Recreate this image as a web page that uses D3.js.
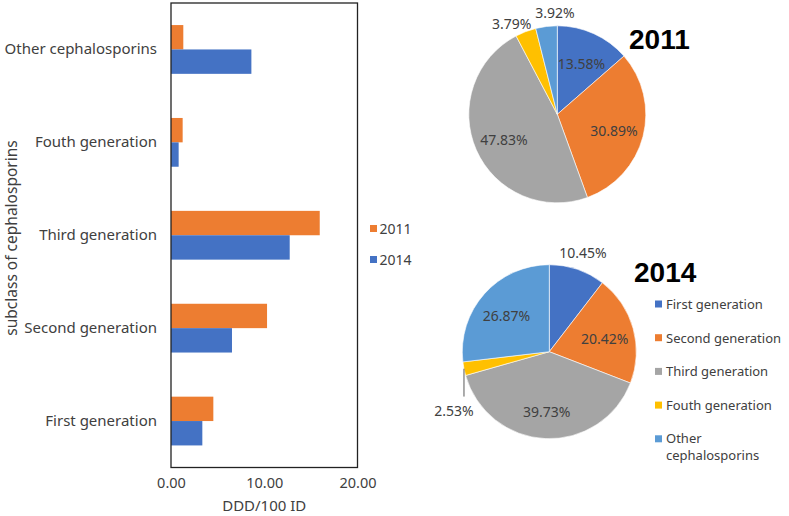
<!DOCTYPE html>
<html>
<head>
<meta charset="utf-8">
<script src="https://cdn.jsdelivr.net/npm/d3@7"></script>
<style>
  html, body { margin: 0; padding: 0; background: #fff; }
  svg { display: block; font-family: "Noto Sans", "Open Sans", sans-serif; }
</style>
</head>
<body>
<svg id="chart" width="789" height="516"></svg>
<script>
// ---------- data ----------
const categories = ["First generation", "Second generation", "Third generation", "Fouth generation", "Other cephalosporins"];
const legendCategories = ["First generation", "Second generation", "Third generation", "Fouth generation", "Other cephalosporins"];
const years = ["2011", "2014"];
const values2011 = [4.54, 10.30, 15.95, 1.25, 1.32];
const values2014 = [3.36, 6.54, 12.73, 0.82, 8.62];
const pct2011 = [13.58, 30.89, 47.83, 3.79, 3.92];
const pct2014 = [10.45, 20.42, 39.73, 2.53, 26.87];
const xTicks = [0, 10, 20];
const xTitle = "DDD/100 ID";
const yTitle = "subclass of cephalosporins";

// ---------- styles ----------
const yearColors = { "2011": "#ED7D31", "2014": "#4472C4" };
const sliceColors = ["#4472C4", "#ED7D31", "#A5A5A5", "#FFC000", "#5B9BD5"];
const textColor = "#404040";

const svg = d3.select("#chart");
svg.append("rect").attr("width", 789).attr("height", 516).attr("fill", "#fff");

// ---------- bar chart ----------
const plot = { left: 171, right: 357.5, top: 3, bottom: 467.5 };
const x = d3.scaleLinear().domain([0, 20]).range([plot.left, plot.right]);
const y = d3.scaleBand()
  .domain(categories.slice().reverse())
  .range([plot.top, plot.bottom])
  .paddingInner(0.475).paddingOuter(0.2375);
const ySub = d3.scaleBand().domain(years).range([0, y.bandwidth()]);

const series = { "2011": values2011, "2014": values2014 };
const barData = [];
categories.forEach((c, i) => years.forEach(yr => barData.push({ c, yr, v: series[yr][i] })));

svg.append("g").selectAll("rect").data(barData).join("rect")
  .attr("x", x(0))
  .attr("y", d => y(d.c) + ySub(d.yr))
  .attr("width", d => x(d.v) - x(0))
  .attr("height", ySub.bandwidth())
  .attr("fill", d => yearColors[d.yr]);

// frame
svg.append("rect")
  .attr("x", plot.left).attr("y", plot.top)
  .attr("width", plot.right - plot.left).attr("height", plot.bottom - plot.top)
  .attr("fill", "none").attr("stroke", "#222").attr("stroke-width", 1.3);

// x axis
const xAxis = svg.append("g")
  .attr("transform", `translate(0,${plot.bottom})`)
  .call(d3.axisBottom(x).tickValues(xTicks).tickFormat(d3.format(".2f")).tickSize(0).tickPadding(10));
xAxis.select(".domain").remove();
xAxis.selectAll("text").attr("fill", textColor).style("font-size", "14.5px")
  .style("font-family", '"Noto Sans", sans-serif');

svg.append("text")
  .attr("x", x(10)).attr("y", 510.5)
  .attr("text-anchor", "middle")
  .attr("fill", textColor).style("font-size", "15px")
  .text(xTitle);

// y axis labels
const yAxis = svg.append("g")
  .attr("transform", `translate(${plot.left},0)`)
  .call(d3.axisLeft(y).tickSize(0).tickPadding(14));
yAxis.select(".domain").remove();
yAxis.selectAll("text").attr("fill", textColor).style("font-size", "15px")
  .style("font-family", '"Noto Sans", sans-serif');

svg.append("text")
  .attr("transform", `translate(11,238) rotate(-90)`)
  .attr("text-anchor", "middle").attr("dominant-baseline", "central")
  .attr("fill", textColor).style("font-size", "15.5px")
  .text(yTitle);

// bar legend (2011 on top)
const barLegend = svg.append("g").attr("transform", "translate(370,228.5)");
years.forEach((yr, i) => {
  const g = barLegend.append("g").attr("transform", `translate(0,${i * 31})`);
  g.append("rect").attr("x", 0).attr("y", -3.5).attr("width", 7).attr("height", 7).attr("fill", yearColors[yr]);
  g.append("text").attr("x", 9.5).attr("y", 0).attr("dominant-baseline", "central")
    .attr("fill", textColor).style("font-size", "14px").text(yr);
});

// ---------- pies ----------
function drawPie(cx, cy, r, pcts, title, titlePos) {
  const g = svg.append("g").attr("transform", `translate(${cx},${cy})`);
  const pie = d3.pie().sort(null).value(d => d)(pcts);
  const arc = d3.arc().innerRadius(0).outerRadius(r);
  g.selectAll("path").data(pie).join("path")
    .attr("d", arc)
    .attr("fill", (d, i) => sliceColors[i])
    .attr("stroke", "#fff").attr("stroke-width", 0.6);

  const inArc = d3.arc().innerRadius(r * 0.66).outerRadius(r * 0.66);
  const mid = d => (d.startAngle + d.endAngle) / 2;

  // outside labels: small slices
  const outside = pie.filter(d => d.data < 11);
  const ang = outside.map(d => mid(d));
  const minSep = 0.44;
  for (let k = 1; k < ang.length; k++) {
    const gap = ang[k] - ang[k - 1];
    if (gap < minSep) {
      const c = (ang[k] + ang[k - 1]) / 2;
      ang[k - 1] = c - minSep / 2;
      ang[k] = c + minSep / 2;
    }
  }

  pie.forEach((d, i) => {
    const label = d.data.toFixed(2) + "%";
    const oi = outside.indexOf(d);
    if (oi < 0) {
      const [lx, ly] = inArc.centroid(d);
      g.append("text").attr("x", lx).attr("y", ly + 2)
        .attr("text-anchor", "middle").attr("dominant-baseline", "central")
        .attr("fill", textColor).style("font-size", "14px").text(label);
    } else if (d.data < 3) {
      const a = mid(d);
      const ex = Math.sin(a) * r, ey = -Math.cos(a) * r;
      g.append("line").attr("x1", ex).attr("y1", ey).attr("x2", ex).attr("y2", ey + 0.32 * r)
        .attr("stroke", "#595959").attr("stroke-width", 1);
      g.append("text").attr("x", ex - 10).attr("y", ey + 0.32 * r + 14)
        .attr("text-anchor", "middle").attr("dominant-baseline", "central")
        .attr("fill", textColor).style("font-size", "14px").text(label);
    } else {
      const a = ang[oi];
      const rr = r * (d.data > 5 ? 1.2 : 1.15);
      g.append("text").attr("x", Math.sin(a) * rr).attr("y", -Math.cos(a) * rr)
        .attr("text-anchor", "middle").attr("dominant-baseline", "central")
        .attr("fill", textColor).style("font-size", "14px").text(label);
    }
  });

  svg.append("text").attr("x", titlePos[0]).attr("y", titlePos[1])
    .attr("dominant-baseline", "central")
    .attr("fill", "#000").style("font-family", '"Liberation Sans", Arial, sans-serif')
    .style("font-weight", "bold").style("font-size", "28px").text(title);
}

drawPie(557.3, 114.3, 88.5, pct2011, "2011", [629, 39]);
drawPie(549.3, 351.7, 87, pct2014, "2014", [634, 272]);

// pie legend
const pieLegend = svg.append("g").attr("transform", "translate(655,304)");
legendCategories.forEach((c, i) => {
  const g = pieLegend.append("g").attr("transform", `translate(0,${i * 33.7})`);
  g.append("rect").attr("x", 0).attr("y", -3.5).attr("width", 7).attr("height", 7).attr("fill", sliceColors[i]);
  const words = c === "Other cephalosporins" ? ["Other", "cephalosporins"] : [c];
  words.forEach((w, j) => {
    g.append("text").attr("x", 11).attr("y", j * 17 - (words.length > 1 ? 1 : 0))
      .attr("dominant-baseline", "central")
      .attr("fill", textColor).style("font-size", "13px").text(w);
  });
});
</script>
</body>
</html>
